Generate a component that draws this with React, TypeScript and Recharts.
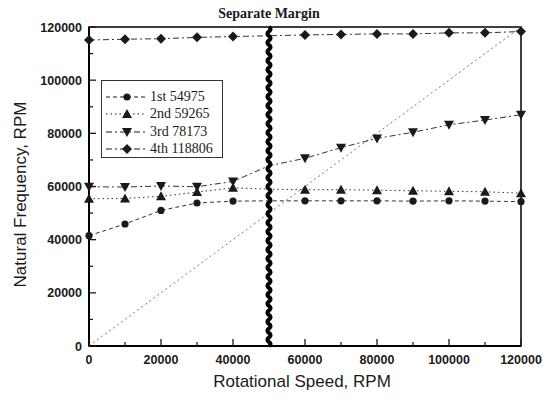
import React from 'react';
import { ComposedChart, Line, XAxis, YAxis, ReferenceLine, ReferenceArea } from 'recharts';

const speeds = [0, 10000, 20000, 30000, 40000, 50000, 60000, 70000, 80000, 90000, 100000, 110000, 120000];
const firstMode = [41500, 45900, 51000, 53800, 54500, 54600, 54600, 54600, 54600, 54500, 54600, 54500, 54300];
const secondMode = [55400, 55500, 56300, 57900, 59500, 59000, 58800, 58800, 58600, 58400, 58200, 58000, 57500];
const thirdMode = [59900, 59800, 60200, 59900, 61900, 67800, 70600, 74600, 78100, 80400, 83200, 85000, 87000];
const fourthMode = [115100, 115400, 115600, 116100, 116400, 116700, 117000, 117200, 117400, 117400, 117800, 117800, 118300];
const modeNames = ['1st 54975', '2nd 59265', '3rd 78173', '4th 118806'];
const excitationSpeeds = [0, 120000];
const excitationFreqs = [0, 120000];
const xTicks = [0, 10000, 20000, 30000, 40000, 50000, 60000, 70000, 80000, 90000, 100000, 110000, 120000];
const yTicks = [0, 10000, 20000, 30000, 40000, 50000, 60000, 70000, 80000, 90000, 100000, 110000, 120000];
const operatingSpeed = 50000;
const chartTitle = 'Separate Margin';
const xTitle = 'Rotational Speed, RPM';
const yTitle = 'Natural Frequency, RPM';

const rows = speeds.map((s, i) => {
  const k = excitationSpeeds.indexOf(s);
  return {
    speed: s,
    m1: firstMode[i],
    m2: secondMode[i],
    m3: thirdMode[i],
    m4: fourthMode[i],
    x1: k >= 0 ? excitationFreqs[k] : null,
  };
});

const INK = '#1a1a1a';
const SANS = '"Liberation Sans", Arial, sans-serif';
const SERIF = '"Liberation Serif", "Times New Roman", serif';

type ShapeKind = 'circle' | 'up' | 'down' | 'diamond';

function Marker({ kind, cx, cy }: { kind: ShapeKind; cx: number; cy: number }) {
  if (kind === 'circle') return <circle cx={cx} cy={cy} r={3.6} fill={INK} stroke="none" />;
  if (kind === 'up')
    return <polygon points={`${cx},${cy - 5} ${cx + 5},${cy + 4} ${cx - 5},${cy + 4}`} fill={INK} />;
  if (kind === 'down')
    return <polygon points={`${cx - 5},${cy - 4} ${cx + 5},${cy - 4} ${cx},${cy + 5}`} fill={INK} />;
  return <polygon points={`${cx},${cy - 5} ${cx + 5},${cy} ${cx},${cy + 5} ${cx - 5},${cy}`} fill={INK} />;
}

const makeDot = (kind: ShapeKind) => (props: any) => {
  const { cx, cy, payload, index } = props;
  if (cx == null || cy == null || !payload || payload.speed === operatingSpeed) return <g key={`e${index}`} />;
  return (
    <g key={`d${index}`}>
      <Marker kind={kind} cx={cx} cy={cy} />
    </g>
  );
};

const series: { key: string; kind: ShapeKind; dash: string }[] = [
  { key: 'm1', kind: 'circle', dash: '4 3' },
  { key: 'm2', kind: 'up', dash: '1.5 3' },
  { key: 'm3', kind: 'down', dash: '6 3 2 3' },
  { key: 'm4', kind: 'diamond', dash: '6 3 2 3' },
];

const XTick = (props: any) => {
  const { x, y, payload } = props;
  const v = payload.value;
  const major = v % 20000 === 0;
  return (
    <g>
      <line x1={x} x2={x} y1={y} y2={y - (major ? 7 : 4)} stroke={INK} strokeWidth={1.3} />
      {major && (
        <text x={x} y={y + 18} textAnchor="middle" fontFamily={SANS} fontWeight="bold" fontSize={12.5} fill={INK}>
          {v}
        </text>
      )}
    </g>
  );
};

const YTick = (props: any) => {
  const { x, y, payload } = props;
  const v = payload.value;
  const major = v % 20000 === 0;
  return (
    <g>
      <line x1={x} x2={x + (major ? 7 : 4)} y1={y} y2={y} stroke={INK} strokeWidth={1.3} />
      {major && (
        <text x={x - 7} y={y + 4.5} textAnchor="end" fontFamily={SANS} fontWeight="bold" fontSize={12.5} fill={INK}>
          {v}
        </text>
      )}
    </g>
  );
};

const WavyLine = (p: any) => {
  const { x1, y1, x2, y2 } = p || {};
  if (x1 == null || y1 == null || y2 == null) return <g />;
  const top = Math.min(y1, y2);
  const bottom = Math.max(y1, y2);
  const period = 9;
  const amp = 1.6;
  let d = `M ${x1} ${top}`;
  let yy = top;
  let side = 1;
  while (yy < bottom) {
    const ny = Math.min(yy + period / 2, bottom);
    d += ` Q ${x1 + amp * side * 2} ${(yy + ny) / 2} ${x1} ${ny}`;
    yy = ny;
    side = -side;
  }
  return <path d={d} stroke="#000" strokeWidth={4} fill="none" />;
};

function LegendBox() {
  return (
    <div
      style={{
        position: 'absolute',
        left: 93,
        top: 72,
        width: 122,
        height: 78,
        border: '1px solid #333',
        background: '#fff',
        boxSizing: 'border-box',
      }}
    >
      {series.map((s, i) => (
        <div
          key={s.key}
          style={{ position: 'absolute', left: 0, top: 7 + i * 17.5, height: 17, display: 'flex', alignItems: 'center' }}
        >
          <svg width={46} height={16} style={{ display: 'block' }}>
            <line x1={4} x2={44} y1={8} y2={8} stroke={INK} strokeWidth={1} strokeDasharray={s.dash} />
            <Marker kind={s.kind} cx={25} cy={8} />
          </svg>
          <span style={{ fontFamily: SERIF, fontSize: 14, color: INK, marginLeft: 2, whiteSpace: 'nowrap' }}>
            {modeNames[i]}
          </span>
        </div>
      ))}
    </div>
  );
}

export default function App() {
  return (
    <div style={{ position: 'relative', width: 535, height: 384 }}>
      <ComposedChart width={535} height={384} data={rows} margin={{ top: 19, right: 22, bottom: 0, left: 6 }}>
        <XAxis
          dataKey="speed"
          type="number"
          domain={[0, 120000]}
          ticks={xTicks}
          interval={0}
          tickSize={0}
          tickMargin={0}
          tickLine={false}
          tick={<XTick />}
          axisLine={{ stroke: '#000', strokeWidth: 2 }}
          height={46}
          label={{
            content: (lp: any) => {
              const vb = lp.viewBox || { x: 81, y: 338, width: 432 };
              return (
                <text x={vb.x + vb.width / 2 - 3} y={379} textAnchor="middle" fontFamily={SANS} fontSize={17} fill={INK}>
                  {xTitle}
                </text>
              );
            },
          }}
        />
        <YAxis
          type="number"
          domain={[0, 120000]}
          ticks={yTicks}
          interval={0}
          tickSize={0}
          tickMargin={0}
          tickLine={false}
          tick={<YTick />}
          axisLine={{ stroke: '#000', strokeWidth: 2 }}
          width={75}
          label={{
            content: (lp: any) => {
              const vb = lp.viewBox || { x: 6, y: 19, height: 319 };
              const cy = vb.y + vb.height / 2 + 8;
              return (
                <text
                  x={12}
                  y={cy}
                  transform={`rotate(-90 12 ${cy})`}
                  textAnchor="middle"
                  dominantBaseline="central"
                  fontFamily={SANS}
                  fontSize={17}
                  fill={INK}
                >
                  {yTitle}
                </text>
              );
            },
          }}
        />
        <ReferenceArea x1={0} x2={120000} y1={0} y2={120000} fill="none" stroke="#000" strokeWidth={1.5} ifOverflow="visible" />
        <Line
          dataKey="x1"
          connectNulls
          stroke="#777"
          strokeWidth={1}
          strokeDasharray="2 3"
          dot={false}
          isAnimationActive={false}
        />
        {series.map((s) => (
          <Line
            key={s.key}
            dataKey={s.key}
            stroke="#333"
            strokeWidth={1}
            strokeDasharray={s.dash}
            dot={makeDot(s.kind)}
            activeDot={false}
            isAnimationActive={false}
          />
        ))}
        <ReferenceLine x={operatingSpeed} stroke="#000" strokeWidth={4} shape={WavyLine} ifOverflow="visible" />
      </ComposedChart>
      <div
        style={{
          position: 'absolute',
          left: 161,
          top: -2,
          width: 200,
          textAlign: 'center',
          fontFamily: SERIF,
          fontWeight: 'bold',
          fontSize: 14,
          lineHeight: '16px',
          color: INK,
          zIndex: 5,
        }}
      >
        {chartTitle}
      </div>
      <LegendBox />
    </div>
  );
}
